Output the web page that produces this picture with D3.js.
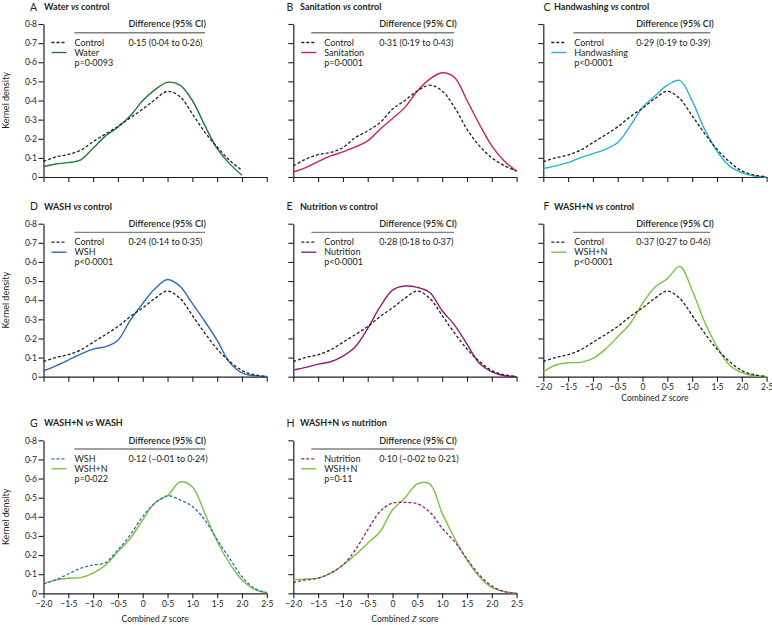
<!DOCTYPE html>
<html><head><meta charset="utf-8">
<script src="https://cdn.jsdelivr.net/npm/d3@7"></script>
<style>
body{margin:0;background:#fff}
svg{display:block}
text{font-family:"Liberation Sans Narrow","Lato",sans-serif;fill:#231f20}
</style>
</head><body>
<svg id="chart" width="772" height="625"></svg>
<script>
// ---------------- DATA ----------------
const zGrid = [-2,-1.75,-1.5,-1.25,-1,-0.75,-0.5,-0.25,0,0.25,0.5,0.75,1,1.25,1.5,1.75,2,2.25,2.5];
const yTicks = [0,0.1,0.2,0.3,0.4,0.5,0.6,0.7,0.8];
const xTicks = [-2,-1.5,-1,-0.5,0,0.5,1,1.5,2,2.5];

const controlDensity     = [0.08,0.10,0.115,0.14,0.18,0.22,0.262,0.315,0.36,0.41,0.448,0.41,0.32,0.228,0.145,0.08,0.032,0.01,0.002];
const waterControl       = [0.082,0.105,0.118,0.14,0.185,0.225,0.265,0.31,0.355,0.405,0.448,0.42,0.33,0.235,0.157,0.087,0.035];
const waterDensity       = [0.055,0.068,0.075,0.09,0.15,0.215,0.26,0.32,0.40,0.457,0.495,0.48,0.40,0.27,0.148,0.07,0.009];
const sanitationControl  = [0.058,0.093,0.117,0.128,0.154,0.206,0.241,0.285,0.355,0.40,0.45,0.48,0.45,0.364,0.25,0.163,0.10,0.06,0.03];
const sanitationDensity  = [0.026,0.049,0.08,0.11,0.131,0.157,0.189,0.25,0.306,0.364,0.45,0.512,0.545,0.52,0.40,0.276,0.163,0.084,0.031];
const handwashingDensity = [0.044,0.058,0.075,0.101,0.122,0.145,0.18,0.267,0.363,0.424,0.48,0.505,0.398,0.25,0.136,0.058,0.023,0.005,0];
const wshDensity         = [0.031,0.057,0.087,0.118,0.144,0.157,0.191,0.296,0.383,0.461,0.508,0.473,0.383,0.29,0.19,0.075,0.02,0.005,0.001];
const nutritionDensity   = [0.035,0.049,0.066,0.078,0.108,0.157,0.253,0.366,0.453,0.474,0.467,0.44,0.345,0.27,0.17,0.07,0.025,0.005,0];
const wshnDensity        = [0.026,0.061,0.073,0.075,0.096,0.143,0.209,0.278,0.383,0.468,0.513,0.577,0.452,0.287,0.157,0.061,0.021,0.005,0];
const gWshDensity        = [0.049,0.07,0.101,0.131,0.148,0.161,0.227,0.306,0.402,0.472,0.51,0.489,0.454,0.384,0.28,0.183,0.087,0.026,0.003];
const gWshnDensity       = [0.049,0.07,0.079,0.082,0.105,0.148,0.218,0.288,0.384,0.475,0.51,0.582,0.556,0.419,0.271,0.157,0.07,0.021,0.003];
const hNutritionDensity  = [0.056,0.07,0.079,0.105,0.148,0.227,0.332,0.428,0.472,0.475,0.468,0.425,0.34,0.27,0.18,0.096,0.038,0.009,0];
const hWshnDensity       = [0.07,0.075,0.079,0.105,0.148,0.201,0.262,0.323,0.437,0.498,0.572,0.572,0.419,0.288,0.175,0.087,0.031,0.009,0];

const panelLetters = ["A","B","C","D","E","F","G","H"];
const panelTitles  = ["Water vs control","Sanitation vs control","Handwashing vs control","WASH vs control","Nutrition vs control","WASH+N vs control","WASH+N vs WASH","WASH+N vs nutrition"];
const refNames     = ["Control","Control","Control","Control","Control","Control","WSH","Nutrition"];
const armNames     = ["Water","Sanitation","Handwashing","WSH","Nutrition","WSH+N","WSH+N","WSH+N"];
const diffLabels   = ["0·15 (0·04 to 0·26)","0·31 (0·19 to 0·43)","0·29 (0·19 to 0·39)","0·24 (0·14 to 0·35)","0·28 (0·18 to 0·37)","0·37 (0·27 to 0·46)","0·12 (–0·01 to 0·24)","0·10 (–0·02 to 0·21)"];
const pLabels      = ["p=0·0093","p=0·0001","p<0·0001","p<0·0001","p<0·0001","p<0·0001","p=0·022","p=0·11"];
const refSeries    = [waterControl,sanitationControl,controlDensity,controlDensity,controlDensity,controlDensity,gWshDensity,hNutritionDensity];
const armSeries    = [waterDensity,sanitationDensity,handwashingDensity,wshDensity,nutritionDensity,wshnDensity,gWshnDensity,hWshnDensity];
const headerLabel  = "Difference (95% CI)";
const yAxisLabel   = "Kernel density";

// ---------------- STYLE / LAYOUT ----------------
const refColors = ["#231f20","#231f20","#231f20","#231f20","#231f20","#231f20","#2c6db5","#951c7f"];
const armColors = ["#1e7b3c","#d4204f","#25b3dd","#2c6db5","#951c7f","#7cc242","#7cc242","#7cc242"];
const colX = [43.5, 293.3, 543.3];
const rowTop = [24, 223.7, 440.3];
const plotW = 223.3, plotH = 153;
const letterX = [30, 286.5, 543.5], titleX = [44, 300, 554];
const headerDX = [85, 86, 93], ruleStart = [31, 18, 30], ruleEnd = [161.5, 161, 167];

const svg = d3.select("#chart");
const x = d3.scaleLinear().domain([-2,2.5]).range([0,plotW]);
const y = d3.scaleLinear().domain([0,0.8]).range([plotH,0]);
const dec = v => (v<0?"−":"") + Math.abs(v).toFixed(1).replace(".","·");
const fmt = v => v===0 ? "0" : dec(v);

panelLetters.forEach((L,i)=>{
  const col = i%3, row = Math.floor(i/3);
  const x0 = colX[col], top = rowTop[row];
  const g = svg.append("g").attr("transform",`translate(${x0},${top})`);

  // title
  svg.append("text").attr("x",letterX[col]).attr("y",top-13.5).attr("font-size",10.5).text(L);
  const parts = panelTitles[i].split(" vs ");
  const t = svg.append("text").attr("x",titleX[col]).attr("y",top-14).attr("font-size",9).attr("font-weight","bold");
  t.append("tspan").text(parts[0]+" ");
  t.append("tspan").attr("font-style","italic").text("vs");
  t.append("tspan").text(" "+parts[1]);

  // axes
  const showY = col===0;
  const showX = (i===5||i===6||i===7);
  const ya = g.append("g").call(d3.axisLeft(y).tickValues(yTicks).tickSize(5).tickSizeOuter(0).tickPadding(1.5).tickFormat(showY?fmt:""));
  const xa = g.append("g").attr("transform",`translate(0,${plotH})`).call(d3.axisBottom(x).tickValues(xTicks).tickSize(5).tickSizeOuter(0).tickPadding(2.5).tickFormat(showX?fmt:""));
  [ya,xa].forEach(a=>{
    a.select(".domain").attr("stroke","#231f20").attr("stroke-width",1.2);
    a.selectAll(".tick line").attr("stroke","#231f20").attr("stroke-width",1.1);
    a.selectAll(".tick text").attr("font-size",8.5).attr("fill","#231f20").style("font-family",'"Liberation Sans Narrow","Lato",sans-serif');
  });
  if(showY){
    svg.append("text").attr("transform",`translate(9,${top+plotH/2}) rotate(-90)`).attr("text-anchor","middle").attr("font-size",9).text(yAxisLabel);
  }
  if(showX){
    const lab = g.append("text").attr("x",plotW/2).attr("y",plotH+(row===1?24.5:29)).attr("text-anchor","middle").attr("font-size",8.5);
    lab.append("tspan").text("Combined ");
    lab.append("tspan").attr("font-style","italic").text("Z");
    lab.append("tspan").text(" score");
  }

  // curves
  const line = d3.line().x((d,k)=>x(zGrid[k])).y(d=>y(d)).curve(d3.curveCatmullRom.alpha(0.5));
  g.append("path").datum(armSeries[i]).attr("d",line).attr("fill","none").attr("stroke",armColors[i]).attr("stroke-width",1.4);
  g.append("path").datum(refSeries[i]).attr("d",line).attr("fill","none").attr("stroke",refColors[i]).attr("stroke-width",1.3).attr("stroke-dasharray","3,2");

  // legend
  g.append("text").attr("x",headerDX[col]).attr("y",3.3).attr("font-size",9).attr("font-weight",600).text(headerLabel);
  g.append("line").attr("x1",ruleStart[col]).attr("x2",ruleEnd[col]).attr("y1",8.7).attr("y2",8.7).attr("stroke","#808080").attr("stroke-width",1.4);
  const rows = [18.5, 28.5, 38.5];
  g.append("line").attr("x1",8).attr("x2",23).attr("y1",rows[0]).attr("y2",rows[0]).attr("stroke",refColors[i]).attr("stroke-width",1.3).attr("stroke-dasharray","3,2");
  g.append("line").attr("x1",8).attr("x2",23).attr("y1",rows[1]).attr("y2",rows[1]).attr("stroke",armColors[i]).attr("stroke-width",1.4);
  g.append("text").attr("x",31).attr("y",rows[0]+3).attr("font-size",9).text(refNames[i]);
  g.append("text").attr("x",31).attr("y",rows[1]+3).attr("font-size",9).text(armNames[i]);
  g.append("text").attr("x",31).attr("y",rows[2]+3).attr("font-size",9).text(pLabels[i]);
  g.append("text").attr("x",headerDX[col]).attr("y",rows[0]+3).attr("font-size",9).text(diffLabels[i]);
});
</script>
</body></html>
